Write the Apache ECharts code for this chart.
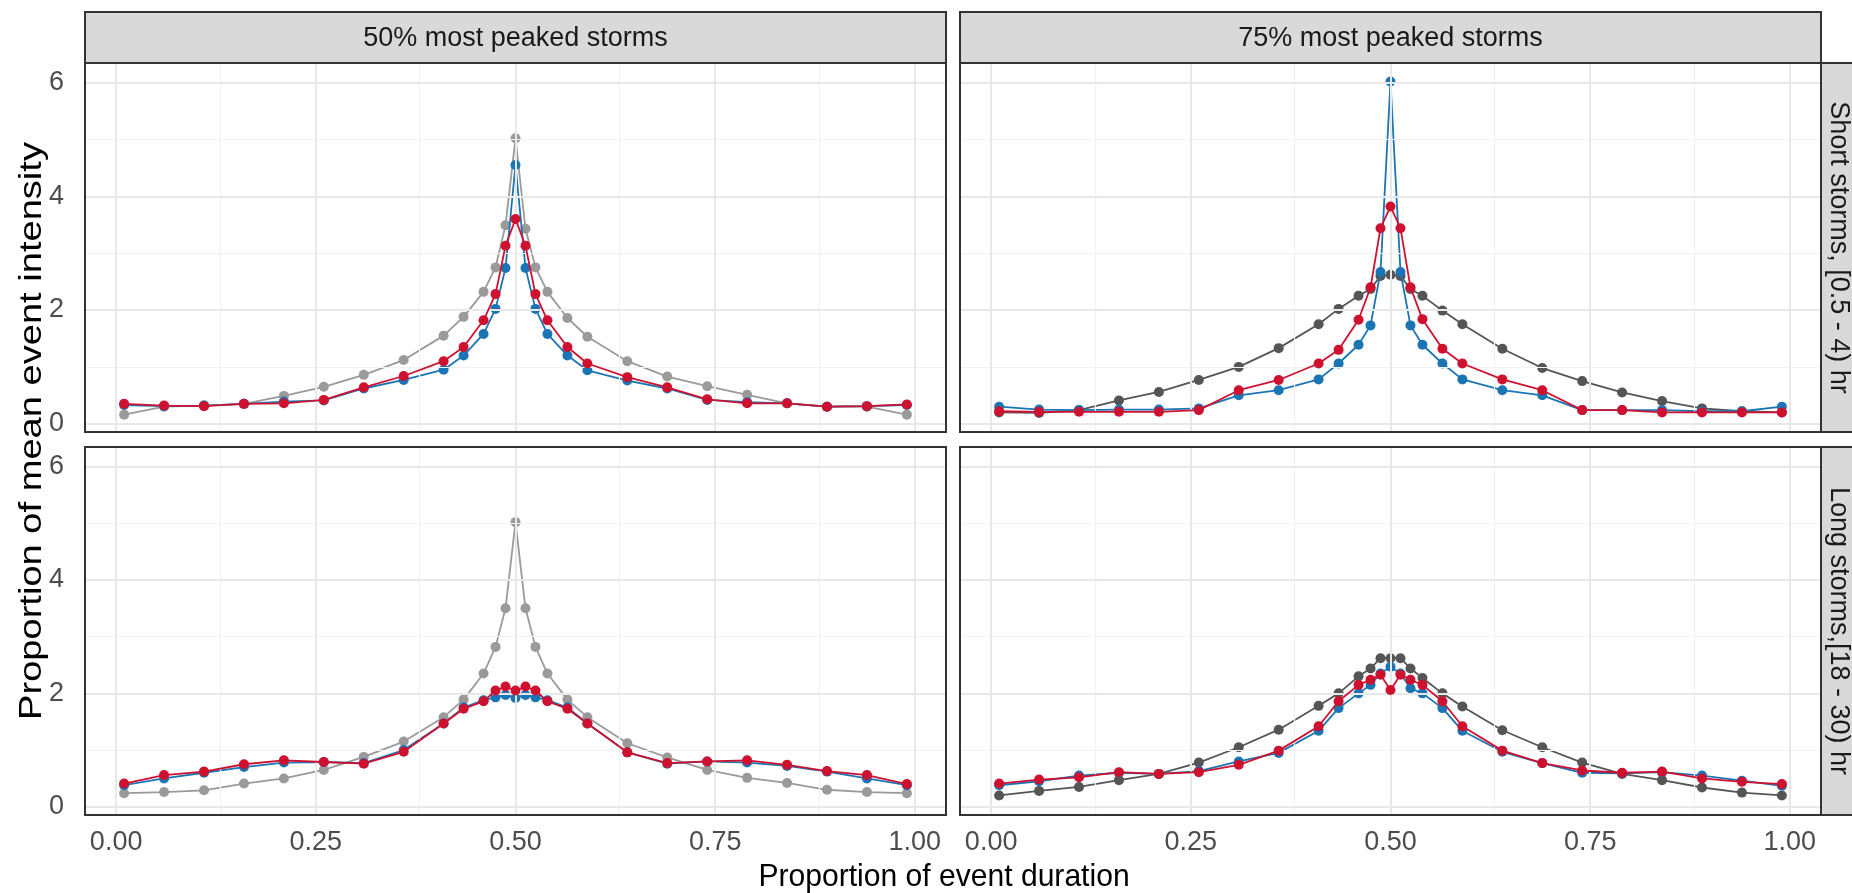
<!DOCTYPE html>
<html><head><meta charset="utf-8">
<script src="https://cdn.jsdelivr.net/npm/echarts@6/dist/echarts.min.js"></script>
<style>html,body{margin:0;padding:0;background:#fff}#c{width:1852px;height:893px}</style>
</head><body><div id="c"></div>
<script>
// ---------------- data ----------------
const xPositions = [0.01, 0.06, 0.11, 0.16, 0.21, 0.26, 0.31, 0.36, 0.41, 0.435, 0.46, 0.475, 0.4875, 0.5, 0.5125, 0.525, 0.54, 0.565, 0.59, 0.64, 0.69, 0.74, 0.79, 0.84, 0.89, 0.94, 0.99];
const xTicks = [0, 0.25, 0.5, 0.75, 1];
const xMinor = [0.125, 0.375, 0.625, 0.875];
const yTicks = [0, 2, 4, 6];
const yMinor = [1, 3, 5];
const colLabels = ['50% most peaked storms', '75% most peaked storms'];
const rowLabels = ['Short storms, [0.5 - 4) hr', 'Long storms,[18 - 30) hr'];
const xTitle = 'Proportion of event duration';
const yTitle = 'Proportion of mean event intensity';

// top-left: short storms, 50% most peaked
const tlGray = [0.16, 0.30, 0.32, 0.35, 0.49, 0.65, 0.86, 1.12, 1.55, 1.88, 2.32, 2.75, 3.49, 5.02, 3.43, 2.75, 2.32, 1.86, 1.53, 1.10, 0.83, 0.66, 0.51, 0.36, 0.30, 0.30, 0.16];
const tlBlue = [0.33, 0.31, 0.32, 0.35, 0.39, 0.41, 0.62, 0.77, 0.95, 1.20, 1.58, 2.02, 2.74, 4.55, 2.74, 2.02, 1.58, 1.20, 0.94, 0.76, 0.62, 0.42, 0.38, 0.36, 0.30, 0.31, 0.33];
const tlRed  = [0.35, 0.32, 0.31, 0.35, 0.36, 0.42, 0.64, 0.84, 1.10, 1.35, 1.82, 2.28, 3.13, 3.60, 3.13, 2.28, 1.82, 1.35, 1.06, 0.82, 0.64, 0.43, 0.36, 0.36, 0.30, 0.31, 0.34];
// top-right: short storms, 75% most peaked
const trGray = [0.20, 0.19, 0.24, 0.41, 0.56, 0.77, 1.00, 1.33, 1.75, 2.02, 2.25, 2.37, 2.60, 2.62, 2.60, 2.37, 2.25, 1.99, 1.75, 1.32, 0.98, 0.75, 0.55, 0.40, 0.27, 0.22, 0.20];
const trBlue = [0.30, 0.25, 0.24, 0.25, 0.25, 0.27, 0.50, 0.59, 0.78, 1.06, 1.39, 1.73, 2.67, 6.02, 2.67, 1.73, 1.39, 1.06, 0.78, 0.59, 0.50, 0.24, 0.24, 0.24, 0.22, 0.22, 0.30];
const trRed  = [0.22, 0.21, 0.21, 0.21, 0.21, 0.24, 0.59, 0.77, 1.06, 1.30, 1.83, 2.40, 3.44, 3.82, 3.44, 2.40, 1.84, 1.32, 1.06, 0.78, 0.59, 0.24, 0.24, 0.20, 0.20, 0.20, 0.20];
// bottom-left: long storms, 50% most peaked
const blGray = [0.24, 0.26, 0.29, 0.41, 0.50, 0.65, 0.88, 1.15, 1.58, 1.89, 2.35, 2.82, 3.50, 5.02, 3.50, 2.82, 2.35, 1.89, 1.58, 1.12, 0.87, 0.65, 0.51, 0.42, 0.30, 0.26, 0.24];
const blBlue = [0.38, 0.50, 0.60, 0.70, 0.78, 0.79, 0.77, 1.00, 1.47, 1.75, 1.88, 1.93, 1.97, 1.92, 1.97, 1.93, 1.88, 1.75, 1.47, 0.96, 0.76, 0.80, 0.78, 0.72, 0.62, 0.50, 0.38];
const blRed  = [0.41, 0.56, 0.62, 0.75, 0.82, 0.79, 0.76, 0.97, 1.47, 1.73, 1.86, 2.05, 2.12, 2.05, 2.12, 2.05, 1.86, 1.73, 1.47, 0.96, 0.77, 0.80, 0.82, 0.74, 0.63, 0.56, 0.40];
// bottom-right: long storms, 75% most peaked
const brGray = [0.20, 0.28, 0.35, 0.47, 0.58, 0.78, 1.05, 1.36, 1.78, 2.00, 2.30, 2.44, 2.62, 2.62, 2.62, 2.44, 2.27, 2.00, 1.77, 1.35, 1.05, 0.78, 0.58, 0.47, 0.34, 0.25, 0.20];
const brBlue = [0.38, 0.45, 0.55, 0.60, 0.58, 0.63, 0.80, 0.95, 1.34, 1.74, 2.00, 2.15, 2.35, 2.47, 2.35, 2.09, 2.00, 1.74, 1.34, 0.97, 0.77, 0.60, 0.59, 0.61, 0.55, 0.46, 0.37];
const brRed  = [0.41, 0.48, 0.52, 0.61, 0.58, 0.61, 0.74, 0.99, 1.42, 1.86, 2.15, 2.24, 2.33, 2.06, 2.33, 2.24, 2.15, 1.86, 1.42, 0.99, 0.77, 0.64, 0.60, 0.62, 0.50, 0.44, 0.40];

// ---------------- layout / style ----------------
const FONT = '"Liberation Sans", Arial, Helvetica, sans-serif';
const colLeft = [85, 960], colWidth = 861;
const rowTop = [63, 447], rowHeight = [369, 368];
const stripTop = 12, stripH = 51;
const rightStripX = 1821, rightStripW = 50, rightTextX = 1838;
const xRange = [-0.039, 1.039], yRange = [-0.145, 6.345];
const BLUE = '#1b75b5', RED = '#cf1130', LIGHTGRAY = '#9a9a9a', DARKGRAY = '#555555';

const panels = [
  {r:0, c:0, gray:tlGray, blue:tlBlue, red:tlRed, gcol:LIGHTGRAY},
  {r:0, c:1, gray:trGray, blue:trBlue, red:trRed, gcol:DARKGRAY},
  {r:1, c:0, gray:blGray, blue:blBlue, red:blRed, gcol:LIGHTGRAY},
  {r:1, c:1, gray:brGray, blue:brBlue, red:brRed, gcol:DARKGRAY}
];

const pair = arr => xPositions.map((x, i) => [x, arr[i]]);

const grids = [], xAxes = [], yAxes = [], series = [], graphics = [];
panels.forEach((p, i) => {
  grids.push({left: colLeft[p.c], top: rowTop[p.r], width: colWidth, height: rowHeight[p.r], containLabel: false});
  xAxes.push({
    type: 'value', gridIndex: i, min: xRange[0], max: xRange[1],
    axisLine: {show: false}, splitLine: {show: false},
    axisTick: {show: p.r === 1, customValues: xTicks, length: 7, lineStyle: {color: '#333', width: 1.5}},
    axisLabel: {show: p.r === 1, customValues: xTicks, formatter: v => v.toFixed(2), margin: 14,
      color: '#4d4d4d', fontSize: 27, fontFamily: FONT}
  });
  yAxes.push({
    type: 'value', gridIndex: i, min: yRange[0], max: yRange[1],
    axisLine: {show: false}, splitLine: {show: false},
    axisTick: {show: p.c === 0, customValues: yTicks, length: 7, lineStyle: {color: '#333', width: 1.5}},
    axisLabel: {show: p.c === 0, customValues: yTicks, formatter: v => String(v), margin: 21,
      color: '#4d4d4d', fontSize: 27, fontFamily: FONT}
  });
  // grid lines through the library's scales
  const ml = [];
  xMinor.forEach(v => ml.push({xAxis: v, lineStyle: {color: '#f2f2f2', width: 1.2}}));
  yMinor.forEach(v => ml.push({yAxis: v, lineStyle: {color: '#f2f2f2', width: 1.2}}));
  xTicks.forEach(v => ml.push({xAxis: v, lineStyle: {color: '#e8e8e8', width: 2}}));
  yTicks.forEach(v => ml.push({yAxis: v, lineStyle: {color: '#e8e8e8', width: 2}}));
  series.push({
    type: 'line', xAxisIndex: i, yAxisIndex: i, data: [[0.5, 1]], showSymbol: false, symbol: 'none',
    lineStyle: {opacity: 0}, z: 1, silent: true,
    markLine: {silent: true, symbol: ['none', 'none'], label: {show: false}, animation: false,
      lineStyle: {type: 'solid'}, emphasis: {disabled: true}, data: ml}
  });
  [[p.gray, p.gcol, 3], [p.blue, BLUE, 4], [p.red, RED, 5]].forEach(([arr, col, z]) => {
    series.push({
      type: 'line', xAxisIndex: i, yAxisIndex: i, data: pair(arr), z: z,
      symbol: 'circle', symbolSize: 10, showSymbol: true,
      itemStyle: {color: col}, lineStyle: {color: col, width: 1.8}, silent: true
    });
  });
  // panel border
  graphics.push({type: 'rect', z: 100, silent: true,
    shape: {x: colLeft[p.c], y: rowTop[p.r], width: colWidth, height: rowHeight[p.r]},
    style: {fill: 'none', stroke: '#333333', lineWidth: 2}});
});

// column strips
colLabels.forEach((t, c) => {
  graphics.push({type: 'rect', z: 90, silent: true,
    shape: {x: colLeft[c], y: stripTop, width: colWidth, height: stripH},
    style: {fill: '#d9d9d9', stroke: '#333333', lineWidth: 2}});
  graphics.push({type: 'text', z: 110, silent: true,
    x: colLeft[c] + colWidth / 2, y: stripTop + stripH / 2 + 1,
    style: {text: t, font: '27px ' + FONT, fill: '#1a1a1a', align: 'center', verticalAlign: 'middle',
      textAlign: 'center', textVerticalAlign: 'middle'}});
});
// row strips
rowLabels.forEach((t, r) => {
  graphics.push({type: 'rect', z: 90, silent: true,
    shape: {x: rightStripX, y: rowTop[r], width: rightStripW, height: rowHeight[r]},
    style: {fill: '#d9d9d9', stroke: '#333333', lineWidth: 2}});
  graphics.push({type: 'text', z: 110, silent: true,
    x: rightTextX, y: rowTop[r] + rowHeight[r] / 2, rotation: -Math.PI / 2,
    style: {text: t, font: '27px ' + FONT, fill: '#1a1a1a', align: 'center', verticalAlign: 'middle',
      textAlign: 'center', textVerticalAlign: 'middle'}});
});
// axis titles
graphics.push({type: 'text', z: 110, silent: true,
  x: 944, y: 877, scaleX: 0.94,
  style: {text: xTitle, font: '32px ' + FONT, fill: '#000', align: 'center', verticalAlign: 'middle',
    textAlign: 'center', textVerticalAlign: 'middle'}});
graphics.push({type: 'text', z: 110, silent: true,
  x: 32, y: 431, rotation: Math.PI / 2, scaleX: 1.19,
  style: {text: yTitle, font: '32px ' + FONT, fill: '#000', align: 'center', verticalAlign: 'middle',
    textAlign: 'center', textVerticalAlign: 'middle'}});

const chart = echarts.init(document.getElementById('c'), null, {renderer: 'canvas'});
chart.setOption({
  animation: false,
  backgroundColor: '#ffffff',
  grid: grids, xAxis: xAxes, yAxis: yAxes, series: series,
  graphic: {elements: graphics}
});
</script></body></html>
